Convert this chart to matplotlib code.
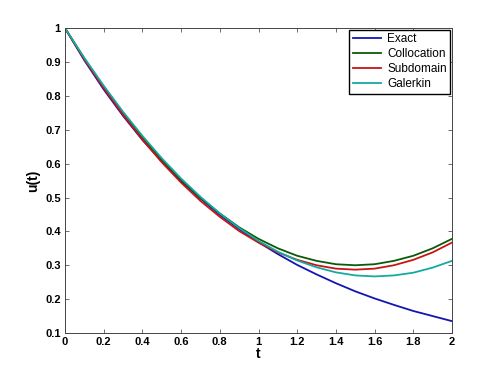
import numpy as np
import matplotlib
matplotlib.use("Agg")
from matplotlib import pyplot as plt

# values at t = 0, 0.1, ..., 2
t = [0.0, 0.1, 0.2, 0.3, 0.4, 0.5, 0.6, 0.7, 0.8, 0.9, 1.0,
     1.1, 1.2, 1.3, 1.4, 1.5, 1.6, 1.7, 1.8, 1.9, 2.0]
exact = [1.000, 0.905, 0.819, 0.741, 0.670, 0.607, 0.549, 0.497, 0.449, 0.407, 0.368,
         0.333, 0.301, 0.273, 0.247, 0.223, 0.202, 0.183, 0.165, 0.150, 0.135]
collocation = [1.000, 0.910, 0.826, 0.748, 0.677, 0.611, 0.552, 0.499, 0.453, 0.412, 0.378,
               0.350, 0.328, 0.313, 0.303, 0.300, 0.303, 0.313, 0.328, 0.350, 0.378]
subdomain = [1.000, 0.908, 0.823, 0.744, 0.671, 0.604, 0.544, 0.490, 0.443, 0.401, 0.367,
             0.338, 0.316, 0.300, 0.290, 0.287, 0.290, 0.300, 0.316, 0.338, 0.367]
galerkin = [1.000, 0.912, 0.830, 0.753, 0.682, 0.616, 0.556, 0.502, 0.453, 0.410, 0.372,
            0.340, 0.314, 0.294, 0.279, 0.270, 0.267, 0.270, 0.278, 0.293, 0.313]

xticks = [0, 0.2, 0.4, 0.6, 0.8, 1, 1.2, 1.4, 1.6, 1.8, 2]
xticklabels = ["0", "0.2", "0.4", "0.6", "0.8", "1", "1.2", "1.4", "1.6", "1.8", "2"]
yticks = [0.1, 0.2, 0.3, 0.4, 0.5, 0.6, 0.7, 0.8, 0.9, 1]
yticklabels = ["0.1", "0.2", "0.3", "0.4", "0.5", "0.6", "0.7", "0.8", "0.9", "1"]

plt.rcParams['font.family'] = ['Liberation Sans', 'DejaVu Sans']

fig = plt.figure(figsize=(5, 3.75), dpi=100)
ax = fig.add_axes([0.13, 0.112, 0.774, 0.813])

ax.plot(t, exact, color='#1414b4', lw=1.3, label='Exact')
ax.plot(t, collocation, color='#0a5a0a', lw=1.3, label='Collocation')
ax.plot(t, subdomain, color='#c81414', lw=1.3, label='Subdomain')
ax.plot(t, galerkin, color='#14aaa0', lw=1.3, label='Galerkin')

ax.set_xlim(0, 2)
ax.set_ylim(0.1, 1)
ax.set_xticks(xticks)
ax.set_xticklabels(xticklabels)
ax.set_yticks(yticks)
ax.set_yticklabels(yticklabels)
ax.tick_params(direction='in', top=True, right=True, length=3, width=0.6,
               labelsize=8, pad=3, color='#555555')
for lab in ax.get_xticklabels() + ax.get_yticklabels():
    lab.set_fontweight('bold')
for s in ax.spines.values():
    s.set_linewidth(0.7)
    s.set_color('#444444')

ax.set_xlabel('t', fontsize=10, fontweight='bold', labelpad=0)
ax.set_ylabel('u(t)', fontsize=10, fontweight='bold', labelpad=4)

leg = ax.legend(loc='upper right', fontsize=8.5, fancybox=False, framealpha=1,
                borderaxespad=0.15, handlelength=2.4, handletextpad=0.5,
                labelspacing=0.25, borderpad=0.3)
leg.get_frame().set_edgecolor('black')
leg.get_frame().set_linewidth(1.0)

fig.savefig('out.png', dpi=100)
